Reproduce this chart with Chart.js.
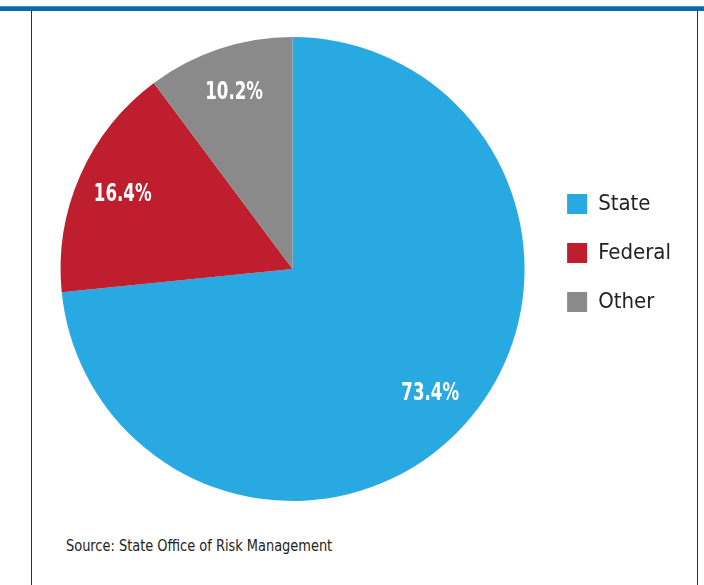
<!DOCTYPE html>
<html>
<head>
<meta charset="utf-8">
<script src="https://cdn.jsdelivr.net/npm/chart.js@4.4.0/dist/chart.umd.min.js"></script>
<style>
  body { margin: 0; background: #fff; }
  #wrap { position: relative; width: 704px; height: 585px; overflow: hidden; }
  #topline { position: absolute; left: 0; top: 6px; width: 704px; height: 4px; background: #0b6aa8; border-top: 1px solid #4a95c8; }
  #leftline { position: absolute; left: 31px; top: 10px; width: 1px; height: 580px; background: #333; }
  #rightline { position: absolute; left: 697px; top: 10px; width: 1px; height: 580px; background: #333; }
  #box { position: absolute; left: 33px; top: 10px; width: 664px; height: 510px; }
  #source { position: absolute; left: 66px; top: 536px; font: 16px "DejaVu Sans Condensed", sans-serif; color: #222;
            transform: scaleX(0.9); transform-origin: left top; white-space: nowrap; }
</style>
</head>
<body>
<div id="wrap">
  <div id="topline"></div>
  <div id="leftline"></div>
  <div id="rightline"></div>
  <div id="box"><canvas id="grafico"></canvas></div>
  <div id="source">Source: State Office of Risk Management</div>
</div>
<script>
const categorias = ["State", "Federal", "Other"];
const porcentajes = [73.4, 16.4, 10.2];
const colores = ["#29a9e1", "#be1e2d", "#8a8a8a"];

const fuente = '"DejaVu Sans Condensed", sans-serif';

// etiquetas blancas dentro de cada porción (texto estrechado)
const etiquetas = {
  id: "etiquetas",
  afterDatasetsDraw(chart) {
    const ctx = chart.ctx;
    const meta = chart.getDatasetMeta(0);
    meta.data.forEach((arc, i) => {
      const medio = (arc.startAngle + arc.endAngle) / 2;
      const r = arc.outerRadius * 0.8;
      ctx.save();
      ctx.translate(arc.x + Math.cos(medio) * r, arc.y + Math.sin(medio) * r);
      ctx.scale(0.74, 1);
      ctx.fillStyle = "#fff";
      ctx.font = "bold 25px " + fuente;
      ctx.textAlign = "center";
      ctx.textBaseline = "middle";
      ctx.fillText(porcentajes[i].toFixed(1) + "%", 0, 0);
      ctx.restore();
    });
  }
};

new Chart(document.getElementById("grafico").getContext("2d"), {
  type: "pie",
  data: {
    labels: categorias,
    datasets: [{
      data: porcentajes,
      backgroundColor: colores,
      borderWidth: 0,
      hoverOffset: 0
    }]
  },
  options: {
    responsive: true,
    maintainAspectRatio: false,
    animation: false,
    layout: { padding: { left: 12, right: 16, top: 27, bottom: 19 } },
    plugins: {
      tooltip: { enabled: false },
      legend: {
        position: "right",
        align: "start",
        title: { display: true, text: "", padding: { top: 114.6, bottom: 0 } },
        labels: {
          boxWidth: 20,
          boxHeight: 20,
          padding: 27,
          color: "#222",
          font: { size: 22, family: fuente }
        }
      }
    }
  },
  plugins: [etiquetas]
});
</script>
</body>
</html>
